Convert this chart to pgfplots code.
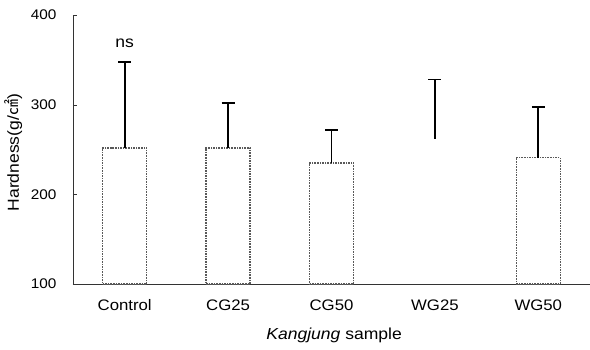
\documentclass[border=0pt]{standalone}
\usepackage{fontspec}
\setmainfont{Liberation Sans}[FakeStretch=1.1]
\newfontfamily\cjk{Noto Sans CJK KR}
\usepackage{pgfplots}
\pgfplotsset{compat=1.18}
\begin{document}
\begin{tikzpicture}[x=1bp,y=1bp]
\useasboundingbox (-73bp,-66bp) rectangle (517bp,284bp);
\begin{axis}[
  scale only axis,
  width=517bp, height=269bp,
  xmin=-0.5, xmax=4.5,
  ymin=100, ymax=400,
  ytick={100,200,300,400},
  xtick={0,1,2,3,4},
  xticklabels={Control,CG25,CG50,WG25,WG50},
  extra x ticks={0.5,1.5,2.5,3.5},
  extra x tick labels={},
  extra x tick style={major tick length=3bp, tick align=inside, tick style={black!70}},
  x tick style={draw=none},
  y tick style={black!80},
  major tick length=4bp,
  tick align=inside,
  axis lines*=left,
  axis line style={black!80, line width=0.8bp},
  clip mode=individual,
  /pgf/number format/assume math mode=true,
  ybar, bar width=44bp, bar shift=0pt,
  ticklabel style={font=\fontsize{14}{16}\selectfont},
  xticklabel style={font=\fontsize{15.3}{17}\selectfont, yshift=-8bp},
  yticklabel style={xshift=-13bp},
  xlabel={\textit{Kangjung} sample},
  ylabel={Hardness(g/{\cjk ㎠})},
  label style={font=\fontsize{16}{18}\selectfont},
  xlabel style={at={(axis description cs:0.505,-0.19)}, anchor=center},
  ylabel style={at={(axis description cs:-0.115,0.488)}, anchor=center},
  error bars/y dir=plus, error bars/y explicit,
  error bars/error bar style={black, solid, line width=1.8bp},
  error bars/error mark options={black, solid, rotate=90, mark size=6.5bp, line width=1.8bp},
]
\addplot[draw=black!65, line width=1.6bp, fill=white, densely dotted]
  coordinates {(0,252) +- (0,96) (1,252) +- (0,50) (2,235) +- (0,37) (4,241) +- (0,56)};
\addplot[draw=none, fill=none]
  coordinates {(3,262) +- (0,66)};
\node[font=\fontsize{16}{18}\selectfont] at (axis cs:0,369) {ns};
\end{axis}
\end{tikzpicture}
\end{document}
